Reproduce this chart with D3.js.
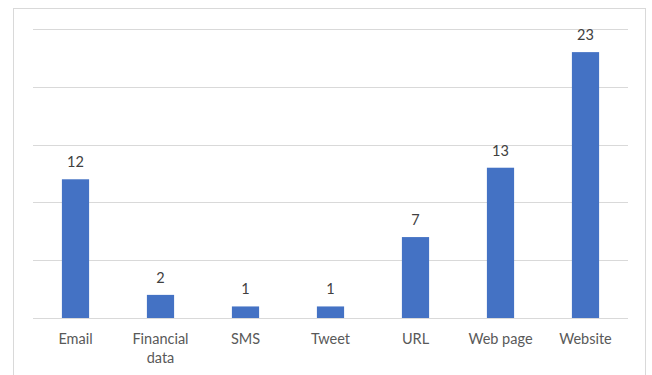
<!DOCTYPE html>
<html>
<head>
<meta charset="utf-8">
<script src="https://cdn.jsdelivr.net/npm/d3@7"></script>
<style>
  html, body { margin: 0; padding: 0; background: #fff; }
  svg { display: block; }
</style>
</head>
<body>
<svg id="chart" width="652" height="375"></svg>
<script>
const categories = [["Email"], ["Financial", "data"], ["SMS"], ["Tweet"], ["URL"], ["Web page"], ["Website"]];
const values = [12, 2, 1, 1, 7, 13, 23];
const yTicks = [0, 5, 10, 15, 20, 25];

const W = 652, H = 375;
const margin = { left: 33, right: 24, top: 29, bottom: 57 };
const svg = d3.select("#chart");

// outer chart frame
svg.append("rect")
  .attr("x", 13.5).attr("y", 8.5)
  .attr("width", 632).attr("height", 380)
  .attr("fill", "#fff").attr("stroke", "#d9d9d9").attr("stroke-width", 1);

const keys = categories.map(c => c.join(" "));
const x = d3.scaleBand().domain(keys).range([margin.left, W - margin.right]).paddingInner(0.68).paddingOuter(0.34);
const y = d3.scaleLinear().domain([0, 25]).range([H - margin.bottom, margin.top]);

// horizontal gridlines
svg.append("g").selectAll("line").data(yTicks).join("line")
  .attr("x1", margin.left).attr("x2", W - margin.right)
  .attr("y1", d => Math.round(y(d)) + 0.5).attr("y2", d => Math.round(y(d)) + 0.5)
  .attr("stroke", "#d9d9d9").attr("stroke-width", 1);

// bars
svg.append("g").selectAll("rect").data(values).join("rect")
  .attr("x", (d, i) => x(keys[i]))
  .attr("width", x.bandwidth())
  .attr("y", d => y(d))
  .attr("height", d => y(0) - y(d))
  .attr("fill", "#4472c4");

const font = "Lato, 'Open Sans', sans-serif";

// value labels
svg.append("g").selectAll("text").data(values).join("text")
  .attr("x", (d, i) => x(keys[i]) + x.bandwidth() / 2)
  .attr("y", d => y(d) - 12)
  .attr("text-anchor", "middle")
  .attr("font-family", font).attr("font-size", 14.5)
  .attr("fill", "#404040")
  .text(d => d);

// category labels
const xl = svg.append("g").selectAll("text").data(categories).join("text")
  .attr("x", (d, i) => x(keys[i]) + x.bandwidth() / 2)
  .attr("y", H - margin.bottom + 26)
  .attr("text-anchor", "middle")
  .attr("font-family", font).attr("font-size", 14.5)
  .attr("fill", "#595959");
xl.each(function(d) {
  const t = d3.select(this);
  d.forEach((line, j) => {
    t.append("tspan")
      .attr("x", t.attr("x"))
      .attr("dy", j === 0 ? 0 : 19)
      .text(line);
  });
});
</script>
</body>
</html>
